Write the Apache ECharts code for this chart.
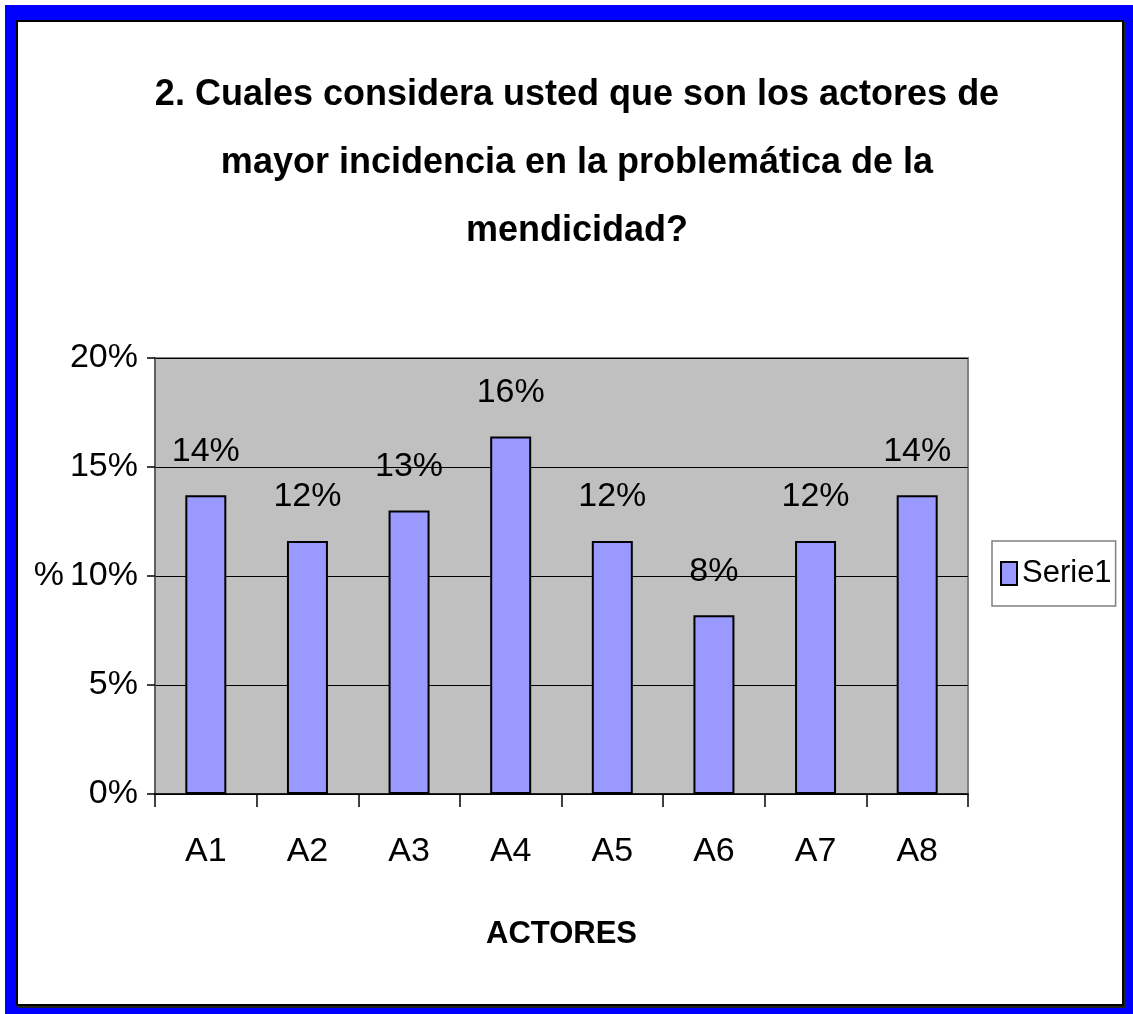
<!DOCTYPE html>
<html>
<head>
<meta charset="utf-8">
<script src="https://cdn.jsdelivr.net/npm/echarts@6/dist/echarts.min.js"></script>
<style>
  body { margin: 0; background: #fff; }
  .frame {
    position: absolute; left: 5px; top: 5px; width: 1128px; height: 1009px;
    background: #0000ff;
  }
  .inner {
    position: absolute; left: 11px; top: 15px; width: 1104px; height: 982px;
    background: #fff; border: 2px solid #000;
    box-shadow: 2px 2px 0 #222;
  }
  #chart { position: absolute; left: 0; top: 0; width: 1133px; height: 1014px; }
</style>
</head>
<body>
<div class="frame"><div class="inner"></div></div>
<div id="chart"></div>
<script>
// datos del grafico
const actores = ['A1', 'A2', 'A3', 'A4', 'A5', 'A6', 'A7', 'A8']
const serie1 = [13.7, 11.6, 13.0, 16.4, 11.6, 8.2, 11.6, 13.7] // porcentaje
const yTicks = [0, 5, 10, 15, 20]

const font = "'Liberation Sans Narrow', 'Liberation Sans', Arial, sans-serif"

const myChart = echarts.init(document.getElementById('chart'))
const option = {
  backgroundColor: 'transparent',
  textStyle: { fontFamily: font },
  title: {
    text: '2. Cuales considera usted que son los actores de\nmayor incidencia en la problemática de la\nmendicidad?',
    left: 572,
    textAlign: 'center',
    top: 56,
    textStyle: {
      fontFamily: font,
      fontSize: 36,
      fontWeight: 'bold',
      lineHeight: 68,
      color: '#000'
    }
  },
  legend: {
    data: ['Serie1'],
    left: 992,
    top: 541,
    orient: 'vertical',
    padding: [17, 4, 17, 8],
    backgroundColor: '#fff',
    borderColor: '#808080',
    borderWidth: 1.5,
    icon: 'rect',
    itemWidth: 16,
    itemHeight: 23,
    itemGap: 0,
    textStyle: { fontFamily: font, fontSize: 31, color: '#000' }
  },
  grid: {
    left: 155,
    top: 358,
    right: 165,
    bottom: 220,
    show: true,
    backgroundColor: '#c0c0c0',
    borderColor: '#808080',
    borderWidth: 2
  },
  xAxis: {
    type: 'category',
    data: actores,
    name: 'ACTORES',
    nameLocation: 'middle',
    nameGap: 125,
    nameTextStyle: { fontFamily: font, fontSize: 31, fontWeight: 'bold', color: '#000' },
    axisLine: { lineStyle: { color: '#000', width: 1.5 } },
    axisTick: { show: true, length: 13, lineStyle: { color: '#000', width: 1.5 } },
    axisLabel: { fontFamily: font, fontSize: 34, color: '#000', margin: 41 }
  },
  yAxis: {
    type: 'value',
    min: yTicks[0],
    max: yTicks[yTicks.length - 1],
    interval: 5,
    name: '%',
    nameLocation: 'middle',
    nameRotate: 0,
    nameGap: 84,
    nameTextStyle: { fontFamily: font, fontSize: 34, color: '#000' },
    axisLine: { show: true, lineStyle: { color: '#555', width: 1.5 } },
    axisTick: { show: true, length: 8, inside: false, lineStyle: { color: '#000', width: 1.5 } },
    axisLabel: {
      fontFamily: font,
      fontSize: 34,
      color: '#000',
      margin: 17,
      formatter: v => v + '%'
    },
    splitLine: { show: true, lineStyle: { color: '#000', width: 1.2 } }
  },
  series: [{
    name: 'Serie1',
    type: 'bar',
    data: serie1,
    barWidth: 41,
    itemStyle: { color: '#9999ff', borderColor: '#000', borderWidth: 2 },
    label: {
      show: true,
      position: 'top',
      distance: 27,
      fontFamily: font,
      fontSize: 34,
      color: '#000',
      formatter: p => Math.round(p.value) + '%'
    }
  }]
}
myChart.setOption(option)
window.addEventListener('resize', function () {
  myChart.resize()
})
</script>
</body>
</html>
